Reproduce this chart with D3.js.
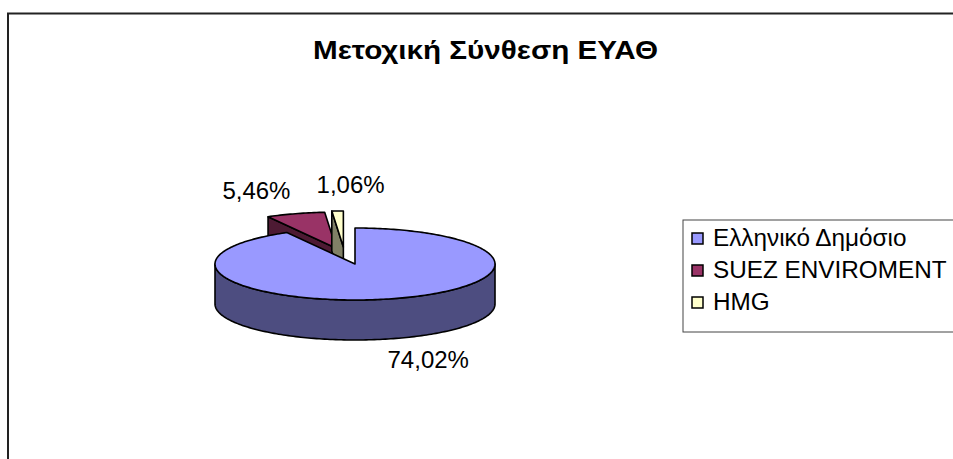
<!DOCTYPE html>
<html>
<head>
<meta charset="utf-8">
<script src="https://cdn.jsdelivr.net/npm/d3@7"></script>
<style>
  body { margin: 0; background: #fff; overflow: hidden; }
  svg { display: block; font-family: "Liberation Sans", Arial, sans-serif; }
</style>
</head>
<body>
<svg id="chart" width="953" height="459"></svg>
<script>
// chart data
const title = "Μετοχική Σύνθεση ΕΥΑΘ";
const categories = ["Ελληνικό Δημόσιο", "SUEZ ENVIROMENT", "HMG"];
const values = [74.02, 5.46, 1.06];

// look
const topColors = ["#9999FF", "#993366", "#FFFFCC"];
const sideColors = ["#4D4D80", "#4D1A33", "#808066"];
const explodeK = [0, 0.46, 0.48];      // fraction of radius
const explodeTurn = [0, 0, -7.6];      // degrees off the bisector
const labelDx = [38, -39, 13];
const labelDy = [29, -14.5, -18];

const svg = d3.select("#chart");
const cx = 355, cy = 264, rx = 140, ry = 36, depth = 40;

// chart frame
svg.append("rect")
  .attr("x", 8).attr("y", 13.5)
  .attr("width", 1100).attr("height", 600)
  .attr("fill", "none").attr("stroke", "#222").attr("stroke-width", 2);

svg.append("text")
  .attr("x", 485.5).attr("y", 59)
  .attr("text-anchor", "middle")
  .attr("font-size", 25).attr("font-weight", "bold")
  .attr("textLength", 345).attr("lengthAdjust", "spacingAndGlyphs")
  .text(title);

const pie = d3.pie().sort(null).startAngle(0).endAngle(2 * Math.PI);
const arcs = pie(values);

const locale = d3.formatLocale({ decimal: ",", thousands: ".", grouping: [3], currency: ["", "€"] });
const fmt = locale.format(".2f");

const line = d3.line();

function pt(c, a, dy) {
  return [c[0] + rx * Math.sin(a), c[1] - ry * Math.cos(a) + (dy || 0)];
}
function rim(c, a0, a1, dy) {
  const n = Math.max(2, Math.ceil(Math.abs(a1 - a0) / 0.02));
  return d3.range(n + 1).map(i => pt(c, a0 + (a1 - a0) * i / n, dy));
}

// explode centres
arcs.forEach((d, i) => {
  const b = (d.startAngle + d.endAngle) / 2 + explodeTurn[i] * Math.PI / 180;
  d.c = [cx + rx * explodeK[i] * Math.sin(b), cy - ry * explodeK[i] * Math.cos(b)];
});

// back slices first
const order = [1, 2, 0];
const g = svg.append("g")
  .attr("stroke", "#000").attr("stroke-width", 1.6).attr("stroke-linejoin", "round");

order.forEach(i => {
  const d = arcs[i], c = d.c, a0 = d.startAngle, a1 = d.endAngle;

  // radial cut faces that face the viewer
  [[a0, Math.sin(a0) < -1e-6], [a1, Math.sin(a1) > 1e-6]].forEach(([a, vis]) => {
    if (!vis) return;
    const p = pt(c, a);
    g.append("path")
      .attr("d", line([c, p, [p[0], p[1] + depth], [c[0], c[1] + depth]]) + "Z")
      .attr("fill", sideColors[i]);
  });

  // outer wall on the front half
  const s = Math.max(a0, Math.PI / 2), e = Math.min(a1, 3 * Math.PI / 2);
  if (e > s) {
    const ptsTop = rim(c, s, e);
    const ptsBot = rim(c, e, s, depth);
    g.append("path")
      .attr("d", line(ptsTop.concat(ptsBot)) + "Z")
      .attr("fill", sideColors[i]);
  }

  // top face
  g.append("path")
    .attr("d", line([c].concat(rim(c, a0, a1))) + "Z")
    .attr("fill", topColors[i]);
});

// value labels
svg.append("g")
  .selectAll("text")
  .data(arcs)
  .join("text")
  .attr("x", (d, i) => {
    const b = (d.startAngle + d.endAngle) / 2;
    return pt(d.c, b)[0] + labelDx[i];
  })
  .attr("y", (d, i) => {
    const b = (d.startAngle + d.endAngle) / 2;
    const front = Math.cos(b) < 0 ? depth : 0;
    return pt(d.c, b, front)[1] + labelDy[i];
  })
  .attr("text-anchor", "middle")
  .attr("font-size", 24)
  .text(d => fmt(d.data) + "%");

// legend
const legend = svg.append("g").attr("transform", "translate(683,220)");
legend.append("rect")
  .attr("width", 400).attr("height", 112)
  .attr("fill", "#fff").attr("stroke", "#444").attr("stroke-width", 1);

const item = legend.selectAll("g.item")
  .data(categories)
  .join("g")
  .attr("class", "item")
  .attr("transform", (d, i) => `translate(9,${13 + i * 32})`);

item.append("rect")
  .attr("width", 11).attr("height", 11)
  .attr("fill", (d, i) => topColors[i])
  .attr("stroke", "#000").attr("stroke-width", 1.5);

item.append("text")
  .attr("x", 21).attr("y", 13)
  .attr("font-size", 24.3)
  .text(d => d);
</script>
</body>
</html>
